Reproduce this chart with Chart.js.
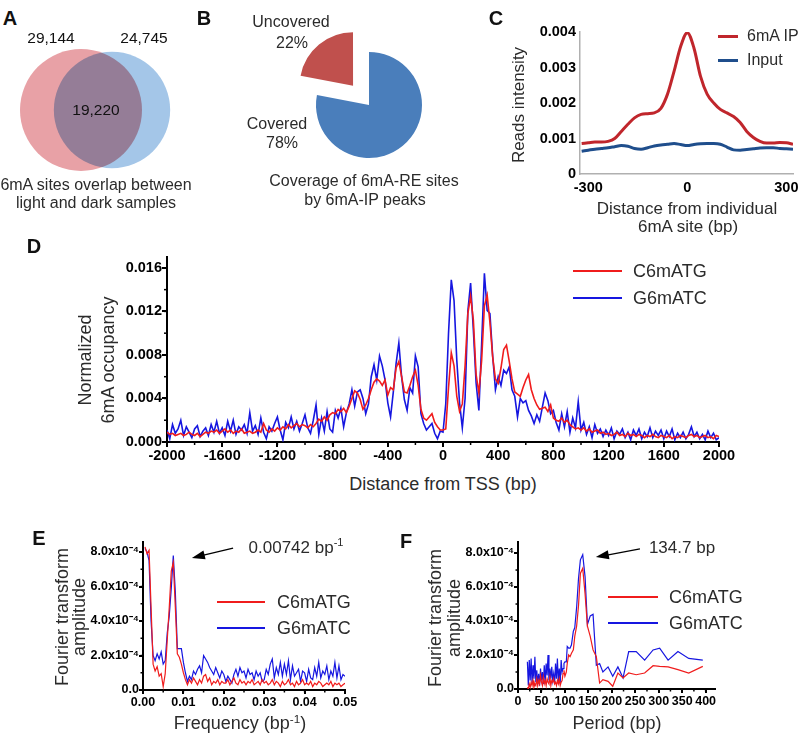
<!DOCTYPE html>
<html>
<head>
<meta charset="utf-8">
<script src="https://cdn.jsdelivr.net/npm/chart.js@4.4.0/dist/chart.umd.min.js"></script>
<style>
  body { margin: 0; width: 800px; height: 735px; position: relative; overflow: hidden; background: #fff;
         font-family: "Liberation Sans", Arial, Helvetica, sans-serif; color: #2b2b2b; }
  canvas { position: absolute; }
  .t { position: absolute; white-space: nowrap; line-height: 1; }
  .t sup { font-size: 65%; vertical-align: 0.55em; line-height: 0; }
  .lg { position: absolute; height: 2px; }
</style>
</head>
<body>
<canvas id="venn" width="192" height="150" style="left:0px;top:35px"></canvas>
<canvas id="pie" width="160" height="160" style="left:289px;top:25px"></canvas>
<canvas id="chartC" width="310" height="212" style="left:500px;top:12px"></canvas>
<canvas id="chartD" width="800" height="225" style="left:0px;top:245px"></canvas>
<canvas id="chartE" width="400" height="185" style="left:0px;top:530px"></canvas>
<canvas id="chartF" width="400" height="185" style="left:400px;top:530px"></canvas>
<script>
// ---- A: overlap of 6mA sites
const vennSets = ["light", "dark"];
const vennOnly = [29144, 24745];
const vennShared = 19220;
const vennCentre = [-0.15, 0.16];

// ---- B: coverage of 6mA-RE sites
const pieLabels = ["Covered", "Uncovered"];
const pieValues = [78, 22];

// ---- C: reads intensity around individual 6mA sites
const cDistance = [-320, -300, -280, -260, -240, -220, -200, -180, -160, -140, -120, -100, -80, -60, -40, -20,
  0, 20, 40, 60, 80, 100, 120, 140, 160, 180, 200, 220, 240, 260, 280, 300, 320];
const cIP = [0.00086, 0.00088, 0.0009, 0.0009, 0.00092, 0.001, 0.0012, 0.0014, 0.00158, 0.00168, 0.0017, 0.00172,
  0.00185, 0.00225, 0.0029, 0.0036, 0.00398, 0.00355, 0.00275, 0.00225, 0.002, 0.00182, 0.00172, 0.00162,
  0.00145, 0.0012, 0.00103, 0.00092, 0.00087, 0.00087, 0.00089, 0.00088, 0.00084];
const cInput = [0.00064, 0.00067, 0.0007, 0.00072, 0.00074, 0.00077, 0.0008, 0.00078, 0.00072, 0.0007, 0.00074,
  0.00079, 0.00082, 0.00084, 0.00086, 0.00083, 0.0008, 0.00083, 0.00085, 0.00086, 0.00086, 0.00084, 0.00076,
  0.00068, 0.00067, 0.00069, 0.00071, 0.00073, 0.00074, 0.00074, 0.00072, 0.00071, 0.0007];
const cXTicks = [-300, 0, 300];
const cYTicks = [0, 0.001, 0.002, 0.003, 0.004];

// ---- D: 6mA occupancy around TSS (20 bp bins, -2000..2000)
const dDistance = Array.from({ length: 201 }, (_, i) => -2000 + 20 * i);
const dC6mATG = [
  0.0009, 0.0007, 0.0008, 0.0006, 0.0007, 0.0008, 0.0006, 0.0007, 0.0009, 0.0007,
  0.0006, 0.0008, 0.0005, 0.0007, 0.0009, 0.0008, 0.0010, 0.0009, 0.0011, 0.0008,
  0.0010, 0.0012, 0.0009, 0.0011, 0.0008, 0.0010, 0.0009, 0.0012, 0.0008, 0.0009,
  0.0010, 0.0008, 0.0009, 0.0011, 0.0009, 0.0017, 0.0011, 0.0009, 0.0012, 0.0010,
  0.0013, 0.0011, 0.0014, 0.0012, 0.0016, 0.0013, 0.0015, 0.0017, 0.0014, 0.0016,
  0.0015, 0.0013, 0.0016, 0.0014, 0.0017, 0.0021, 0.0019, 0.0023, 0.0020, 0.0025,
  0.0027, 0.0026, 0.0030, 0.0028, 0.0031, 0.0027, 0.0033, 0.0040, 0.0047, 0.0045,
  0.0039, 0.0030, 0.0034, 0.0040, 0.0048, 0.0055, 0.0058, 0.0056, 0.0052, 0.0057,
  0.0043, 0.0050, 0.0048, 0.0068, 0.0074, 0.0060, 0.0046, 0.0045, 0.0052, 0.0060,
  0.0066, 0.0052, 0.0030, 0.0022, 0.0020, 0.0023, 0.0026, 0.0018, 0.0014, 0.0011,
  0.0011, 0.0012, 0.0050, 0.0082, 0.0070, 0.0042, 0.0028, 0.0035, 0.0070, 0.0118,
  0.0134, 0.0112, 0.0062, 0.0045, 0.0075, 0.0125, 0.0135, 0.0110, 0.0078, 0.0058,
  0.0054, 0.0068, 0.0085, 0.0089, 0.0074, 0.0058, 0.0046, 0.0044, 0.0042, 0.0050,
  0.0057, 0.0062, 0.0048, 0.0040, 0.0034, 0.0030, 0.0031, 0.0032, 0.0028, 0.0034,
  0.0022, 0.0020, 0.0019, 0.0022, 0.0018, 0.0020, 0.0016, 0.0014, 0.0012, 0.0013,
  0.0011, 0.0013, 0.0010, 0.0012, 0.0009, 0.0010, 0.0011, 0.0008, 0.0009, 0.0007,
  0.0008, 0.0006, 0.0007, 0.0009, 0.0006, 0.0007, 0.0005, 0.0008, 0.0006, 0.0007,
  0.0005, 0.0007, 0.0006, 0.0004, 0.0006, 0.0005, 0.0007, 0.0005, 0.0004, 0.0006,
  0.0005, 0.0004, 0.0006, 0.0003, 0.0005, 0.0004, 0.0006, 0.0005, 0.0004, 0.0006,
  0.0007, 0.0005, 0.0006, 0.0004, 0.0005, 0.0006, 0.0004, 0.0005, 0.0003, 0.0006,
  0.0005];
const dG6mATC = [
  0.0011, 0.0003, 0.0016, 0.0008, 0.0012, 0.0020, 0.0006, 0.0014, 0.0009, 0.0004,
  0.0012, 0.0015, 0.0005, 0.0010, 0.0013, 0.0006, 0.0016, 0.0009, 0.0019, 0.0008,
  0.0013, 0.0006, 0.0019, 0.0010, 0.0020, 0.0007, 0.0014, 0.0011, 0.0016, 0.0008,
  0.0027, 0.0010, 0.0015, 0.0007, 0.0022, 0.0009, 0.0003, 0.0014, 0.0010, 0.0017,
  0.0023, 0.0011, 0.0002, 0.0018, 0.0013, 0.0023, 0.0012, 0.0019, 0.0010, 0.0017,
  0.0025, 0.0013, 0.0008, 0.0020, 0.0034, 0.0007, 0.0022, 0.0010, 0.0028, 0.0012,
  0.0009, 0.0029, 0.0022, 0.0031, 0.0014, 0.0027, 0.0035, 0.0048, 0.0033, 0.0046,
  0.0048, 0.0040, 0.0026, 0.0035, 0.0060, 0.0071, 0.0057, 0.0079, 0.0070, 0.0057,
  0.0036, 0.0023, 0.0046, 0.0072, 0.0091, 0.0060, 0.0039, 0.0029, 0.0050, 0.0045,
  0.0079, 0.0069, 0.0026, 0.0017, 0.0011, 0.0014, 0.0017, 0.0008, 0.0003, 0.0010,
  0.0009, 0.0035, 0.0100, 0.0149, 0.0130, 0.0075, 0.0036, 0.0013, 0.0040, 0.0120,
  0.0146, 0.0103, 0.0054, 0.0029, 0.0090, 0.0155, 0.0121, 0.0118, 0.0079, 0.0048,
  0.0060, 0.0052, 0.0066, 0.0063, 0.0069, 0.0048, 0.0042, 0.0023, 0.0040, 0.0036,
  0.0038, 0.0029, 0.0024, 0.0017, 0.0025, 0.0019, 0.0032, 0.0045, 0.0038, 0.0026,
  0.0029, 0.0018, 0.0011, 0.0026, 0.0014, 0.0028, 0.0009, 0.0022, 0.0013, 0.0037,
  0.0011, 0.0018, 0.0007, 0.0014, 0.0004, 0.0016, 0.0008, 0.0012, 0.0005, 0.0011,
  0.0006, 0.0013, 0.0003, 0.0010, 0.0007, 0.0012, 0.0004, 0.0009, 0.0002, 0.0011,
  0.0006, 0.0012, 0.0003, 0.0009, 0.0005, 0.0013, 0.0004, 0.0010, 0.0006, 0.0011,
  0.0003, 0.0010, 0.0005, 0.0012, 0.0002, 0.0008, 0.0004, 0.0009, 0.0003, 0.0007,
  0.0014, 0.0005, 0.0009, 0.0003, 0.0007, 0.0002, 0.0010, 0.0004, 0.0008, 0.0002,
  0.0004];
const dXTicks = [-2000, -1600, -1200, -800, -400, 0, 400, 800, 1200, 1600, 2000];
const dYTicks = [0, 0.004, 0.008, 0.012, 0.016];

// ---- E: Fourier amplitude vs frequency (amplitude in units of 1e-4)
const eFreq = Array.from({ length: 100 }, (_, i) => +(0.0005 * (i + 1)).toFixed(4));
const eC6mATG = [
  8.3, 7.9, 8.1, 4.8, 1.5, 1.1, 1.35, 0.8, 0.95, 0.2,
  0.95, 2.9, 4.8, 6.9, 7.4, 4.8, 2.1, 1.9, 1.5, 1.0,
  0.6, 0.3, 0.6, 0.4, 0.7, 0.5, 0.3, 0.6, 0.4, 0.8,
  0.9, 0.5, 0.7, 0.3, 0.5, 0.4, 0.6, 0.3, 0.5, 0.4,
  0.4, 0.6, 0.3, 0.5, 0.7, 0.4, 0.3, 0.6, 0.4, 0.5,
  0.3, 0.5, 0.4, 0.6, 0.3, 0.4, 0.5, 0.3, 0.6, 0.4,
  0.5, 0.3, 0.4, 0.6, 0.3, 0.5, 0.4, 0.2, 0.5, 0.3,
  0.4, 0.6, 0.3, 0.4, 0.2, 0.5, 0.3, 0.4, 0.6, 0.3,
  0.4, 0.3, 0.5, 0.2, 0.4, 0.3, 0.5, 0.4, 0.2, 0.3,
  0.4, 0.3, 0.5, 0.2, 0.4, 0.3, 0.4, 0.2, 0.3, 0.4];
const eG6mATC = [
  8.2, 8.0, 7.5, 4.0, 2.0, 1.7, 2.1, 1.8, 2.2, 1.5,
  1.7, 3.3, 4.3, 5.9, 7.8, 5.7, 2.4, 2.4, 2.4, 1.6,
  1.0, 0.5, 0.8, 0.6, 1.1, 0.9, 1.2, 1.4, 1.0, 2.0,
  1.8, 1.6, 1.3, 1.1, 0.9, 1.3, 1.0, 0.7, 1.1, 0.9,
  0.5, 0.8, 0.6, 0.4, 0.9, 1.2, 0.8, 1.3, 1.0, 1.1,
  0.7, 1.2, 0.9, 1.0, 0.6, 1.1, 0.8, 1.0, 0.5, 0.6,
  1.2, 0.9, 1.5, 1.8, 0.7, 1.3, 0.9, 1.6, 0.8, 1.5,
  0.9, 1.7, 0.6, 1.4, 0.8, 1.0, 1.2, 0.5, 1.1, 1.0,
  0.5, 1.2, 0.7, 0.6, 1.3, 0.8, 1.6, 0.7, 1.1, 0.9,
  1.4, 0.6, 1.1, 0.8, 1.6, 0.7, 1.4, 0.6, 0.9, 0.8];
const eXTicks = [0, 0.01, 0.02, 0.03, 0.04, 0.05];
const ampTicks = [0, 2, 4, 6, 8];

// ---- F: Fourier amplitude vs period
const fPeriod = [20, 22, 24, 26, 28, 30, 32, 34, 36, 38, 40, 42, 44, 46, 48, 50, 52, 54, 56, 58, 60, 62, 64, 66,
  68, 70, 72, 74, 76, 78, 80, 82, 84, 86, 88, 90, 92, 94, 96, 98, 100, 103, 105, 108, 111, 114, 118, 121, 125,
  129, 133, 138, 143, 148, 154, 160, 167, 174, 181, 192, 202, 213, 224, 236, 252, 270, 288, 302, 320, 341, 364, 394];
const fC6mATG = [
  0.1, 0.0, 0.3, 0.1, 0.4, 0.2, 0.5, 0.1, 0.3, 0.2, 0.6, 0.2, 0.5, 0.3, 0.8, 0.4, 0.2, 0.7, 0.3, 0.5,
  0.2, 0.6, 0.4, 0.3, 0.7, 0.2, 0.5, 0.4, 0.6, 0.3, 0.4, 0.2, 0.5, 0.3, 0.6, 0.2, 0.4, 0.5, 0.9, 1.1,
  0.75, 1.0, 1.5, 2.0, 1.9, 2.1, 2.3, 3.1, 3.7, 4.9, 6.8, 7.1, 5.6, 3.7, 3.1, 2.3, 1.9, 0.35, 0.55, 0.45,
  0.16, 0.94, 0.65, 0.94, 0.84, 0.94, 1.37, 1.33, 1.3, 1.14, 0.94, 1.33];
const fG6mATC = [
  1.6, 0.2, 1.7, 0.5, 1.8, 0.3, 1.4, 0.6, 1.9, 0.4, 1.1, 0.3, 0.9, 0.2, 1.2, 0.5, 1.0, 0.3, 1.4, 0.4,
  1.5, 0.8, 2.0, 0.5, 1.2, 0.6, 1.3, 0.5, 0.9, 0.3, 1.5, 0.6, 1.8, 0.4, 1.2, 0.3, 1.7, 1.0, 1.2, 1.5,
  1.6, 1.6, 2.5, 2.4, 2.4, 2.6, 3.4, 3.6, 4.8, 6.5, 7.6, 7.9, 6.6, 3.8, 4.3, 4.4, 1.4, 1.5, 1.0, 1.3,
  0.75, 1.3, 0.65, 2.2, 2.2, 1.7, 2.3, 2.4, 1.7, 2.2, 1.8, 1.7];
const fXTicks = [0, 50, 100, 150, 200, 250, 300, 350, 400];

const FONT = '"Liberation Sans", Arial, Helvetica, sans-serif';
const RED = "#f01c1c";
const BLUE = "#1616e0";
Chart.defaults.font.family = FONT;
Chart.defaults.animation = false;
Chart.defaults.events = [];
Chart.defaults.plugins.legend.display = false;
Chart.defaults.plugins.tooltip.enabled = false;

function pts(xs, ys) {
  return xs.map((x, i) => ({ x: x, y: ys[i] }));
}

function addText(x, y, html, size, opts) {
  opts = opts || {};
  const el = document.createElement("div");
  el.className = "t";
  el.innerHTML = html;
  el.style.left = x + "px";
  el.style.top = y + "px";
  el.style.fontSize = size + "px";
  if (opts.bold) el.style.fontWeight = "bold";
  if (opts.color) el.style.color = opts.color;
  let tf = opts.left ? "translate(0,-50%)" : "translate(-50%,-50%)";
  if (opts.rotate) tf += " rotate(-90deg)";
  el.style.transform = tf;
  document.body.appendChild(el);
}

function addLegendLine(x0, x1, y, color, h) {
  const el = document.createElement("div");
  el.className = "lg";
  el.style.left = x0 + "px";
  el.style.width = (x1 - x0) + "px";
  el.style.top = (y - h / 2) + "px";
  el.style.height = h + "px";
  el.style.background = color;
  document.body.appendChild(el);
}

// small plugin: short minor tick marks between the labelled ones
const minorTicks = {
  id: "minorTicks",
  afterDraw(chart, args, opts) {
    const ctx = chart.ctx;
    ["x", "y"].forEach((id) => {
      const step = opts[id];
      if (!step) return;
      const s = chart.scales[id];
      ctx.save();
      ctx.strokeStyle = "#000";
      ctx.lineWidth = 1.5;
      const n = Math.floor((s.max - s.min) / step + 1e-6);
      for (let i = 0; i <= n; i++) {
        const p = s.getPixelForValue(s.min + i * step);
        ctx.beginPath();
        if (id === "x") {
          ctx.moveTo(p, s.top);
          ctx.lineTo(p, s.top + (opts.len || 3));
        } else {
          ctx.moveTo(s.right, p);
          ctx.lineTo(s.right - (opts.len || 3), p);
        }
        ctx.stroke();
      }
      ctx.restore();
    });
  },
};

// arrow pointing at a peak, given in data coordinates
const arrowPlugin = {
  id: "arrow",
  afterDraw(chart, args, opts) {
    if (!opts.from) return;
    const { x, y } = chart.scales;
    const x0 = x.getPixelForValue(opts.from[0]), y0 = y.getPixelForValue(opts.from[1]);
    const x1 = x.getPixelForValue(opts.to[0]), y1 = y.getPixelForValue(opts.to[1]);
    const a = Math.atan2(y1 - y0, x1 - x0);
    const ctx = chart.ctx;
    ctx.save();
    ctx.strokeStyle = "#000";
    ctx.fillStyle = "#000";
    ctx.lineWidth = 1.3;
    ctx.beginPath();
    ctx.moveTo(x0, y0);
    ctx.lineTo(x1 - 10 * Math.cos(a), y1 - 10 * Math.sin(a));
    ctx.stroke();
    ctx.beginPath();
    ctx.moveTo(x1, y1);
    ctx.lineTo(x1 - 13 * Math.cos(a) + 4.5 * Math.sin(a), y1 - 13 * Math.sin(a) - 4.5 * Math.cos(a));
    ctx.lineTo(x1 - 13 * Math.cos(a) - 4.5 * Math.sin(a), y1 - 13 * Math.sin(a) + 4.5 * Math.cos(a));
    ctx.closePath();
    ctx.fill();
    ctx.restore();
  },
};

// pins the axis box sizes so the plot area lands where it should
function fixedAxis(kind, size) {
  return function (s) {
    if (kind === "x") s.height = size;
    else s.width = size;
    s.paddingLeft = s.paddingRight = s.paddingTop = s.paddingBottom = 0;
  };
}

function originChart(id, datasets, o) {
  const tickFont = { family: FONT, weight: "bold", size: o.font };
  return new Chart(document.getElementById(id), {
    type: "line",
    data: { datasets: datasets },
    options: {
      responsive: false,
      maintainAspectRatio: false,
      layout: { padding: { top: o.top, right: o.right, left: 0, bottom: 0 } },
      elements: { point: { radius: 0 }, line: { tension: 0, fill: false } },
      plugins: {
        minorTicks: { x: o.xMinor, y: o.yMinor, len: o.minorLen },
        arrow: o.arrow || {},
      },
      scales: {
        x: {
          type: "linear", min: o.xMin, max: o.xMax,
          afterBuildTicks: (ax) => { ax.ticks = o.xTicks.map((v) => ({ value: v })); },
          afterFit: fixedAxis("x", o.xSize),
          grid: { display: true, drawOnChartArea: false, drawTicks: true, tickLength: o.tickLen, color: "#000", lineWidth: 2 },
          border: { display: true, color: "#000", width: 2 },
          ticks: { padding: o.xPad, color: "#000", font: tickFont, autoSkip: false, maxRotation: 0, callback: o.xFmt },
        },
        y: {
          type: "linear", min: o.yMin, max: o.yMax,
          afterBuildTicks: (ax) => { ax.ticks = o.yTicks.map((v) => ({ value: v })); },
          afterFit: fixedAxis("y", o.ySize),
          grid: { display: true, drawOnChartArea: false, drawTicks: true, tickLength: o.tickLen, color: "#000", lineWidth: 2 },
          border: { display: true, color: "#000", width: 2 },
          ticks: { padding: o.yPad, color: "#000", font: tickFont, autoSkip: false, callback: o.yFmt },
        },
      },
    },
    plugins: [minorTicks, arrowPlugin],
  });
}

// ================= A: Venn diagram as two bubbles
const vennColors = ["#e8a1a6", "#a4c6e8"];
const multiply = {
  id: "multiply",
  beforeDatasetsDraw(chart) { chart.ctx.save(); chart.ctx.globalCompositeOperation = "multiply"; },
  afterDatasetsDraw(chart) { chart.ctx.restore(); },
};
// bubble charts pad the plot area by the largest radius, so the padding is set to that
new Chart(document.getElementById("venn"), {
  type: "bubble",
  data: {
    datasets: vennSets.map((name, i) => ({
      label: name,
      data: [{ x: vennCentre[i], y: 0, r: 0.2774 * Math.sqrt(vennOnly[i] + vennShared) }],
      backgroundColor: vennColors[i],
      borderWidth: 0,
      clip: false,
    })),
  },
  options: {
    responsive: false,
    maintainAspectRatio: false,
    layout: { padding: 61 },
    scales: {
      x: { display: false, min: -0.35, max: 0.35 },
      y: { display: false, min: -0.14, max: 0.14 },
    },
  },
  plugins: [multiply],
});
const fmt = (n) => n.toLocaleString("en-US");
addText(10, 18, "A", 20, { bold: true, color: "#111" });
addText(51, 38, fmt(vennOnly[0]), 15.5, { color: "#111" });
addText(144, 38, fmt(vennOnly[1]), 15.5, { color: "#111" });
addText(96, 110, fmt(vennShared), 15.5, { color: "#111" });
addText(96, 185, "6mA sites overlap between", 16);
addText(96, 203, "light and dark samples", 16);

// ================= B: pie with the uncovered slice pulled out
new Chart(document.getElementById("pie"), {
  type: "pie",
  data: {
    labels: pieLabels,
    datasets: [{
      data: pieValues,
      backgroundColor: ["#4a7ebb", "#c0504d"],
      borderWidth: 0,
      offset: [0, 100],
      clip: false,
    }],
  },
  options: { responsive: false, maintainAspectRatio: false, radius: 53, layout: { padding: 0 } },
});
addText(204, 18, "B", 20, { bold: true, color: "#111" });
addText(291, 22, pieLabels[1], 16);
addText(292, 43, pieValues[1] + "%", 16);
addText(277, 124, pieLabels[0], 16);
addText(282, 143, pieValues[0] + "%", 16);
addText(364, 181, "Coverage of 6mA-RE sites", 16);
addText(365, 200, "by 6mA-IP peaks", 16);

// ================= C: reads intensity
const cFont = { family: FONT, weight: "bold", size: 14.5 };
new Chart(document.getElementById("chartC"), {
  type: "line",
  data: {
    datasets: [
      { label: "6mA IP", data: pts(cDistance, cIP), borderColor: "#c0262c", borderWidth: 3 },
      { label: "Input", data: pts(cDistance, cInput), borderColor: "#1f4e8c", borderWidth: 3 },
    ],
  },
  options: {
    responsive: false,
    maintainAspectRatio: false,
    layout: { padding: { top: 20, right: 17, left: 0, bottom: 0 } },
    elements: { point: { radius: 0 }, line: { tension: 0.4, cubicInterpolationMode: "monotone", fill: false } },
    scales: {
      x: {
        type: "linear", min: -325, max: 320,
        afterBuildTicks: (ax) => { ax.ticks = cXTicks.map((v) => ({ value: v })); },
        afterFit: fixedAxis("x", 50),
        grid: { display: false, drawTicks: false },
        border: { display: true, color: "#b0b0b0", width: 1.5 },
        ticks: { padding: 5, color: "#000", font: cFont, autoSkip: false, maxRotation: 0 },
      },
      y: {
        type: "linear", min: 0, max: 0.004,
        afterBuildTicks: (ax) => { ax.ticks = cYTicks.map((v) => ({ value: v })); },
        afterFit: fixedAxis("y", 80),
        grid: { display: false, drawTicks: false },
        border: { display: true, color: "#b0b0b0", width: 1.5 },
        ticks: { padding: 4, color: "#000", font: cFont, callback: (v) => (v === 0 ? "0" : v.toFixed(3)) },
      },
    },
  },
});
addText(496, 18, "C", 20, { bold: true, color: "#111" });
addText(518, 105, "Reads intensity", 17, { rotate: true });
addText(687, 208, "Distance from individual", 17);
addText(688, 226, "6mA site (bp)", 17);
addLegendLine(718, 738, 36, "#c0262c", 3);
addText(747, 36, "6mA IP", 16, { left: true });
addLegendLine(718, 738, 60, "#1f4e8c", 3);
addText(747, 60, "Input", 16, { left: true });

// ================= D: occupancy around TSS
originChart("chartD", [
  { label: "C6mATG", data: pts(dDistance, dC6mATG), borderColor: RED, borderWidth: 1.6 },
  { label: "G6mATC", data: pts(dDistance, dG6mATC), borderColor: BLUE, borderWidth: 1.6 },
], {
  top: 12, right: 81, xSize: 28, ySize: 167, font: 14.5, tickLen: 5, minorLen: 3, xPad: 0, yPad: 0,
  xMin: -2000, xMax: 2000, xTicks: dXTicks, xMinor: 200, xFmt: (v) => String(v),
  yMin: 0, yMax: 0.017, yTicks: dYTicks, yMinor: 0.002, yFmt: (v) => v.toFixed(3),
});
addText(34, 246, "D", 20, { bold: true, color: "#111" });
addText(85, 360, "Normalized", 18, { rotate: true });
addText(108, 360, "6mA occupancy", 18, { rotate: true });
addText(443, 484, "Distance from TSS (bp)", 18);
addLegendLine(573, 622, 271, RED, 2);
addText(633, 271, "C6mATG", 18, { left: true });
addLegendLine(573, 622, 298, BLUE, 2);
addText(633, 298, "G6mATC", 18, { left: true });

// ================= E / F: Fourier transforms
const ampFmt = (v) => (v === 0 ? "0.0" : v.toFixed(1) + "x10\u207B\u2074");
originChart("chartE", [
  { label: "C6mATG", data: pts(eFreq, eC6mATG), borderColor: RED, borderWidth: 1.2 },
  { label: "G6mATC", data: pts(eFreq, eG6mATC), borderColor: BLUE, borderWidth: 1.2 },
], {
  top: 12, right: 55, xSize: 25, ySize: 143, font: 12.5, tickLen: 4, minorLen: 2.5, xPad: 1, yPad: 0,
  xMin: 0, xMax: 0.05, xTicks: eXTicks, xMinor: 0.005, xFmt: (v) => v.toFixed(2),
  yMin: 0, yMax: 8.58, yTicks: ampTicks, yMinor: 1, yFmt: ampFmt,
  arrow: { from: [0.0223, 8.23], to: [0.0121, 7.65] },
});
addText(39, 538, "E", 20, { bold: true, color: "#111" });
addText(62, 617, "Fourier transform", 18, { rotate: true });
addText(79, 617, "amplitude", 18, { rotate: true });
addText(240, 723, "Frequency (bp<sup>-1</sup>)", 18);
addText(296, 547, "0.00742 bp<sup>-1</sup>", 17);
addLegendLine(217, 265, 602, RED, 2);
addText(277, 602, "C6mATG", 18, { left: true });
addLegendLine(217, 265, 628, BLUE, 2);
addText(277, 628, "G6mATC", 18, { left: true });

originChart("chartF", [
  { label: "C6mATG", data: pts(fPeriod, fC6mATG), borderColor: RED, borderWidth: 1.2 },
  { label: "G6mATC", data: pts(fPeriod, fG6mATC), borderColor: BLUE, borderWidth: 1.2 },
], {
  top: 12, right: 85, xSize: 26, ySize: 118, font: 12.5, tickLen: 4, minorLen: 2.5, xPad: 1, yPad: 0,
  xMin: 0, xMax: 420, xTicks: fXTicks, xMinor: 25, xFmt: (v) => String(v),
  yMin: 0, yMax: 8.65, yTicks: ampTicks, yMinor: 1, yFmt: ampFmt,
  arrow: { from: [260, 8.24], to: [166, 7.76] },
});
addText(406, 541, "F", 20, { bold: true, color: "#111" });
addText(435, 618, "Fourier transform", 18, { rotate: true });
addText(454, 618, "amplitude", 18, { rotate: true });
addText(617, 723, "Period (bp)", 18);
addText(682, 547, "134.7 bp", 17);
addLegendLine(608, 658, 597, RED, 2);
addText(669, 597, "C6mATG", 18, { left: true });
addLegendLine(608, 658, 623, BLUE, 2);
addText(669, 623, "G6mATC", 18, { left: true });
</script>
</body>
</html>
